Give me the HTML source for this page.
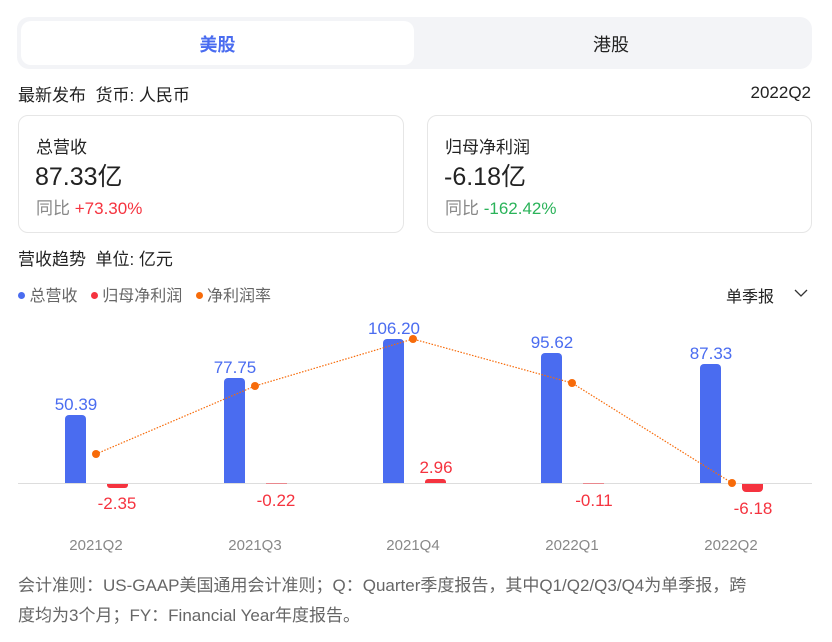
<!DOCTYPE html>
<html><head><meta charset="utf-8"><style>
*{margin:0;padding:0;box-sizing:border-box}
body{width:832px;height:642px;background:#fff;font-family:"Liberation Sans","Noto Sans CJK SC",sans-serif;color:#222;position:relative;overflow:hidden}
.abs{position:absolute}
</style></head><body>
<div class="abs" style="left:17px;top:17px;width:795px;height:52px;background:#f3f4f7;border-radius:12px"></div>
<div class="abs" style="left:21px;top:21px;width:393px;height:44px;background:#fff;border-radius:10px"></div>
<div class="abs" style="left:21px;top:31px;width:393px;text-align:center;font-size:18px;color:#4a6cf0;font-weight:bold">美股</div>
<div class="abs" style="left:414px;top:31px;width:394px;text-align:center;font-size:18px;color:#222">港股</div>
<div class="abs" style="left:18px;top:81px;font-size:17px">最新发布&nbsp; 货币: 人民币</div>
<div class="abs" style="right:21px;top:83px;font-size:17px">2022Q2</div>
<div class="abs" style="left:18px;top:115px;width:386px;height:118px;border:1px solid #e6e6e6;border-radius:10px"></div>
<div class="abs" style="left:427px;top:115px;width:385px;height:118px;border:1px solid #e6e6e6;border-radius:10px"></div>
<div class="abs" style="left:36px;top:133px;font-size:17px">总营收</div>
<div class="abs" style="left:35px;top:157px;font-size:25px">87.33亿</div>
<div class="abs" style="left:36px;top:194px;font-size:17px;color:#888">同比 <span style="color:#f5333f">+73.30%</span></div>
<div class="abs" style="left:445px;top:133px;font-size:17px">归母净利润</div>
<div class="abs" style="left:444px;top:157px;font-size:25px">-6.18亿</div>
<div class="abs" style="left:445px;top:194px;font-size:17px;color:#888">同比 <span style="color:#2bb35a">-162.42%</span></div>
<div class="abs" style="left:18px;top:245px;font-size:17px">营收趋势&nbsp; 单位: 亿元</div>
<div class="abs" style="left:18px;top:282px;font-size:16px;color:#666;white-space:nowrap">
<span style="display:inline-block;width:7px;height:7px;border-radius:50%;background:#4a6cf0;vertical-align:2px"></span> 总营收&nbsp;&nbsp;
<span style="display:inline-block;width:7px;height:7px;border-radius:50%;background:#f5333f;vertical-align:2px"></span> 归母净利润&nbsp;&nbsp;
<span style="display:inline-block;width:7px;height:7px;border-radius:50%;background:#f76b0a;vertical-align:2px"></span> 净利润率</div>
<div class="abs" style="left:726px;top:283px;font-size:16px">单季报</div>
<svg class="abs" style="left:0;top:0" width="832" height="642">
<polyline points="795,290 801,296 807,290" fill="none" stroke="#333" stroke-width="1.3"/>
<line x1="18" x2="812" y1="483.5" y2="483.5" stroke="#ddd" stroke-width="1"/>
<g fill="#4a6cf0">
<path d="M65,483V419a4,4 0 0 1 4,-4h13a4,4 0 0 1 4,4V483z"/>
<path d="M224,483V382a4,4 0 0 1 4,-4h13a4,4 0 0 1 4,4V483z"/>
<path d="M383,483V343a4,4 0 0 1 4,-4h13a4,4 0 0 1 4,4V483z"/>
<path d="M541,483V357a4,4 0 0 1 4,-4h13a4,4 0 0 1 4,4V483z"/>
<path d="M700,483V368a4,4 0 0 1 4,-4h13a4,4 0 0 1 4,4V483z"/>
</g>
<g fill="#f5333f">
<path d="M107,484h21v1a3,3 0 0 1 -3,3h-15a3,3 0 0 1 -3,-3z"/>
<rect x="266" y="483" width="21" height="1" opacity=".5"/>
<path d="M425,483v-1a3,3 0 0 1 3,-3h15a3,3 0 0 1 3,3v1z"/>
<rect x="583" y="483" width="21" height="1" opacity=".5"/>
<path d="M742,484h21v4a4,4 0 0 1 -4,4h-13a4,4 0 0 1 -4,-4z"/>
</g>
<polyline points="96,454 255,386 413,339 572,383 732,483" fill="none" stroke="#f76b0a" stroke-width="1.2" stroke-dasharray="1.5,1.5"/>
<g fill="#f76b0a"><circle cx="96" cy="454" r="4"/><circle cx="255" cy="386" r="4"/><circle cx="413" cy="339" r="4"/><circle cx="572" cy="383" r="4"/><circle cx="732" cy="483" r="4"/></g>
<g font-size="17" fill="#4a6cf0" text-anchor="middle">
<text x="76" y="410">50.39</text><text x="235" y="373">77.75</text><text x="394" y="334">106.20</text><text x="552" y="348">95.62</text><text x="711" y="359">87.33</text></g>
<g font-size="17" fill="#f5333f" text-anchor="middle">
<text x="117" y="509">-2.35</text><text x="276" y="506">-0.22</text><text x="436" y="473">2.96</text><text x="594" y="506">-0.11</text><text x="753" y="514">-6.18</text></g>
<g font-size="15" fill="#888" text-anchor="middle">
<text x="96" y="550">2021Q2</text><text x="255" y="550">2021Q3</text><text x="413" y="550">2021Q4</text><text x="572" y="550">2022Q1</text><text x="731" y="550">2022Q2</text></g>
</svg>
<div class="abs" style="left:18px;top:571px;width:810px;font-size:17px;line-height:30px;color:#666;white-space:nowrap">会计准则：US-GAAP美国通用会计准则；Q：Quarter季度报告，其中Q1/Q2/Q3/Q4为单季报，跨<br>度均为3个月；FY：Financial Year年度报告。</div>
</body></html>
